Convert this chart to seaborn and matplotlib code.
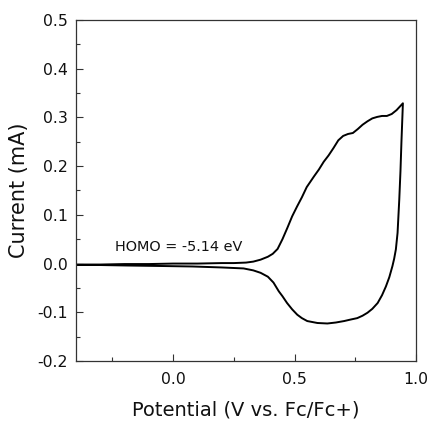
import numpy as np
import pandas as pd
import matplotlib
matplotlib.use("Agg")
import matplotlib.pyplot as plt
import seaborn as sns
from matplotlib.ticker import MultipleLocator, FormatStrFormatter

# Forward (oxidation) scan
fwd_x = [-0.40, -0.30, -0.20, -0.10, 0.00, 0.10, 0.20, 0.25, 0.30, 0.33, 0.36, 0.39, 0.41,
         0.43, 0.45, 0.47, 0.49, 0.51, 0.53, 0.55, 0.58, 0.60, 0.62, 0.64, 0.66, 0.68,
         0.70, 0.72, 0.74, 0.76, 0.78, 0.80, 0.82, 0.84, 0.86, 0.88, 0.90, 0.92, 0.946]
fwd_y = [-0.002, -0.002, -0.001, -0.001, 0.000, 0.000, 0.001, 0.001, 0.002, 0.004, 0.008, 0.014, 0.020,
         0.030, 0.050, 0.073, 0.097, 0.117, 0.136, 0.157, 0.179, 0.193, 0.209, 0.222, 0.237, 0.253,
         0.262, 0.266, 0.268, 0.276, 0.285, 0.292, 0.298, 0.301, 0.303, 0.303, 0.307, 0.315, 0.329]

# Reverse scan
rev_x = [0.946, 0.940, 0.936, 0.931, 0.924, 0.917, 0.910, 0.903, 0.890, 0.876, 0.860, 0.842,
         0.820, 0.800, 0.780, 0.758, 0.730, 0.704, 0.670, 0.635, 0.594, 0.552, 0.530, 0.511,
         0.490, 0.469, 0.450, 0.435, 0.413, 0.390, 0.36, 0.33, 0.29, 0.20, 0.08, -0.05, -0.19,
         -0.30, -0.40]
rev_y = [0.329, 0.250, 0.190, 0.131, 0.063, 0.029, 0.010, -0.005, -0.028, -0.047, -0.065, -0.081,
         -0.093, -0.101, -0.107, -0.112, -0.115, -0.118, -0.121, -0.123, -0.122, -0.118, -0.112, -0.105,
         -0.094, -0.081, -0.067, -0.057, -0.039, -0.027, -0.019, -0.014, -0.010, -0.008, -0.006, -0.005,
         -0.004, -0.003, -0.003]

annotation = "HOMO = -5.14 eV"
x_label = "Potential (V vs. Fc/Fc+)"
y_label = "Current (mA)"

df = pd.DataFrame({"Potential": fwd_x + rev_x, "Current": fwd_y + rev_y})

sns.set_style("ticks")
plt.rcParams["font.family"] = ["DejaVu Sans"]
plt.rcParams["xtick.direction"] = "in"
plt.rcParams["ytick.direction"] = "in"
plt.rcParams["text.color"] = "#111111"
plt.rcParams["axes.labelcolor"] = "#111111"
plt.rcParams["xtick.labelcolor"] = "#111111"
plt.rcParams["ytick.labelcolor"] = "#111111"

fig = plt.figure(figsize=(4.32, 4.25), dpi=100)
ax = fig.add_axes([0.176, 0.1506, 0.787, 0.8024])

sns.lineplot(data=df, x="Potential", y="Current", sort=False, estimator=None,
             color="black", linewidth=1.4, ax=ax)

ax.set_xlim(-0.4, 1.0)
ax.set_ylim(-0.2, 0.5)
ax.xaxis.set_major_locator(MultipleLocator(0.5))
ax.xaxis.set_minor_locator(MultipleLocator(0.25))
ax.yaxis.set_major_locator(MultipleLocator(0.1))
ax.yaxis.set_minor_locator(MultipleLocator(0.05))
ax.xaxis.set_major_formatter(FormatStrFormatter("%.1f"))
ax.yaxis.set_major_formatter(FormatStrFormatter("%.1f"))

ax.tick_params(axis="both", which="major", length=5, width=0.8, labelsize=11.3, color="#333333")
ax.tick_params(axis="both", which="minor", length=2.8, width=0.8, color="#333333")
ax.tick_params(axis="x", which="major", pad=8)
ax.tick_params(axis="y", which="major", pad=6)
ax.tick_params(top=False, right=False, which="both")

for s in ax.spines.values():
    s.set_linewidth(0.9)
    s.set_color("#333333")

ax.set_xlabel(x_label, fontsize=14, labelpad=10)
ax.set_ylabel(y_label, fontsize=15, labelpad=6)

ax.text(-0.24, 0.035, annotation, fontsize=10.4, va="center", ha="left")

fig.savefig("out.png", dpi=100)
